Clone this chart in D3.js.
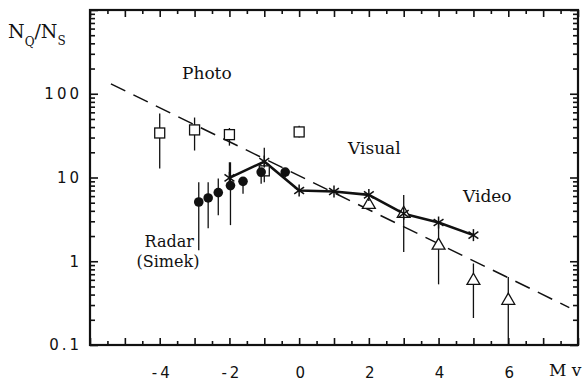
<!DOCTYPE html>
<html>
<head>
<meta charset="utf-8">
<script src="https://cdn.jsdelivr.net/npm/d3@7"></script>
<style>
body { margin: 0; background: #fff; }
svg { display: block; }
.tick text { font-family: "DejaVu Sans", sans-serif; font-size: 15px; fill: #111; letter-spacing: 3px; }
.lbl { font-family: "DejaVu Serif", serif; fill: #111; }
</style>
</head>
<body>
<script>
// values (magnitude Mv vs N_Q/N_S)
var photoM  = [-4, -3, -2, -1, 0];
var photoN  = [34, 37, 32.5, 12, 35];
var photoHi = [58, 52, 39, 12, 41.5];
var photoLo = [12.8, 21, 24, 12, 30];

var radarM  = [-2.88, -2.61, -2.32, -1.97, -1.61, -1.09, -0.4];
var radarN  = [5.1, 5.7, 6.6, 8.0, 9.0, 11.6, 11.6];
var radarHi = [8.8, 8.8, 9.7, 15.2, 10, 14, 13];
var radarLo = [1.35, 2.47, 3.53, 2.7, 6.4, 8.4, 10];

var visualM  = [-2, -1, 0, 1, 2, 3, 4, 5];
var visualN  = [9.9, 15.5, 7.0, 6.8, 6.2, 3.7, 2.9, 2.05];
var visualHi = [15.2, 22.7, 7.0, 6.8, 6.2, 6.2, 2.9, 2.05];
var visualLo = [9.9, 8.8, 7.0, 6.8, 6.2, 1.29, 2.9, 2.05];

var videoM  = [2, 3, 4, 5, 6];
var videoN  = [4.6, 3.6, 1.5, 0.57, 0.33];
var videoHi = [4.6, 3.6, 2.94, 0.94, 0.65];
var videoLo = [4.6, 3.6, 0.53, 0.21, 0.1];

var fitM = [-5.4, 7.75];
var fitN = [131, 0.28];

var xLabels = [-4, -2, 0, 2, 4, 6];
var yLabels = [0.1, 1, 10, 100];

var W = 582, H = 383;
// note: "top" is taken by window.top, so prefix these
var pLeft = 90, pRight = 578, pTop = 10, pBottom = 345;

var svg = d3.select("body").append("svg")
	.attr("width", W)
	.attr("height", H);

var x = d3.scaleLinear().domain([-6, 8]).range([pLeft, pRight]);
var y = d3.scaleLog().domain([0.1, 1000]).range([pBottom, pTop]);

// ticks every half magnitude, longer on the integers
var halfTicks = d3.range(-6, 8.01, 0.5);
var intTicks = halfTicks.filter(function(d){ return d % 1 === 0; });
var minorX = halfTicks.filter(function(d){ return d % 1 !== 0; });

var minorY = [];
for(var e = -1; e < 3; e++){
	for(var k = 2; k <= 9; k++){
		minorY.push(k * Math.pow(10, e));
	}
}
var decY = [0.1, 1, 10, 100, 1000];

function tickAxis(axisFn, scale, vals, len, tx){
	var g = svg.append("g")
		.attr("transform", tx)
		.call(axisFn(scale).tickValues(vals).tickSize(-len).tickFormat(""));
	g.select(".domain").remove();
	g.selectAll("line").attr("stroke", "#111").attr("stroke-width", 1.6);
	return g;
}

tickAxis(d3.axisBottom, x, intTicks, 7, "translate(0," + pBottom + ")");
tickAxis(d3.axisBottom, x, minorX, 4, "translate(0," + pBottom + ")");
tickAxis(d3.axisTop, x, intTicks, 7, "translate(0," + pTop + ")");
tickAxis(d3.axisTop, x, minorX, 4, "translate(0," + pTop + ")");
tickAxis(d3.axisLeft, y, decY, 8, "translate(" + pLeft + ",0)");
tickAxis(d3.axisLeft, y, minorY, 5, "translate(" + pLeft + ",0)");
tickAxis(d3.axisRight, y, decY, 8, "translate(" + pRight + ",0)");
tickAxis(d3.axisRight, y, minorY, 5, "translate(" + pRight + ",0)");

// frame
svg.append("rect")
	.attr("x", pLeft)
	.attr("y", pTop)
	.attr("width", pRight - pLeft)
	.attr("height", pBottom - pTop)
	.attr("fill", "none")
	.attr("stroke", "#111")
	.attr("stroke-width", 2.2);

// tick labels
var xl = svg.append("g")
	.attr("transform", "translate(2," + pBottom + ")")
	.call(d3.axisBottom(x).tickValues(xLabels).tickSize(0).tickPadding(22).tickFormat(function(d){ return d; }));
xl.select(".domain").remove();

var yl = svg.append("g")
	.attr("transform", "translate(" + (pLeft - 8) + ",0)")
	.call(d3.axisLeft(y).tickValues(yLabels).tickSize(0).tickPadding(0).tickFormat(function(d){ return d < 1 ? "0.1" : String(d); }));
yl.select(".domain").remove();

// dashed fit line
var line = d3.line()
	.x(function(d){ return x(d[0]); })
	.y(function(d){ return y(d[1]); });

svg.append("path")
	.datum(d3.zip(fitM, fitN))
	.attr("d", line)
	.attr("fill", "none")
	.attr("stroke", "#111")
	.attr("stroke-width", 1.5)
	.attr("stroke-dasharray", "16,9");

// error bars
function errBars(ms, hi, lo){
	svg.append("g").selectAll("line")
		.data(d3.range(ms.length))
		.enter().append("line")
		.attr("x1", function(i){ return x(ms[i]); })
		.attr("x2", function(i){ return x(ms[i]); })
		.attr("y1", function(i){ return y(hi[i]); })
		.attr("y2", function(i){ return y(lo[i]); })
		.attr("stroke", "#111")
		.attr("stroke-width", 1.3);
}
errBars(photoM, photoHi, photoLo);
errBars(radarM, radarHi, radarLo);
errBars(visualM, visualHi, visualLo);
errBars(videoM, videoHi, videoLo);

// visual: thick connecting line
svg.append("path")
	.datum(d3.zip(visualM, visualN))
	.attr("d", line)
	.attr("fill", "none")
	.attr("stroke", "#111")
	.attr("stroke-width", 2.6)
	.attr("stroke-linejoin", "round");

// photo squares
svg.append("g").selectAll("rect")
	.data(d3.zip(photoM, photoN))
	.enter().append("rect")
	.attr("x", function(d){ return x(d[0]) - 5; })
	.attr("y", function(d){ return y(d[1]) - 5; })
	.attr("width", 10)
	.attr("height", 10)
	.attr("fill", "#fff")
	.attr("stroke", "#111")
	.attr("stroke-width", 1.3);

// radar dots
svg.append("g").selectAll("circle")
	.data(d3.zip(radarM, radarN))
	.enter().append("circle")
	.attr("cx", function(d){ return x(d[0]); })
	.attr("cy", function(d){ return y(d[1]); })
	.attr("r", 4.8)
	.attr("fill", "#111");

// video triangles
var tri = d3.symbol().type(d3.symbolTriangle).size(72);
svg.append("g").selectAll("path")
	.data(d3.zip(videoM, videoN))
	.enter().append("path")
	.attr("d", tri)
	.attr("transform", function(d){ return "translate(" + x(d[0]) + "," + (y(d[1]) - 1) + ")"; })
	.attr("fill", "#fff")
	.attr("stroke", "#111")
	.attr("stroke-width", 1.3);

// visual asterisks
var arms = [90, 35, 145];
var stars = svg.append("g").selectAll("g")
	.data(d3.zip(visualM, visualN))
	.enter().append("g")
	.attr("transform", function(d){ return "translate(" + x(d[0]) + "," + y(d[1]) + ")"; });
arms.forEach(function(a){
	var r = 6, rad = a * Math.PI / 180;
	stars.append("line")
		.attr("x1", -r * Math.cos(rad))
		.attr("y1", -r * Math.sin(rad))
		.attr("x2", r * Math.cos(rad))
		.attr("y2", r * Math.sin(rad))
		.attr("stroke", "#111")
		.attr("stroke-width", 1.5);
});

// labels
svg.append("text").attr("class", "lbl").attr("x", 182).attr("y", 79).attr("font-size", 17).text("Photo");
svg.append("text").attr("class", "lbl").attr("x", 348).attr("y", 154).attr("font-size", 17).text("Visual");
svg.append("text").attr("class", "lbl").attr("x", 463).attr("y", 202).attr("font-size", 17).text("Video");
svg.append("text").attr("class", "lbl").attr("x", 194).attr("y", 247).attr("font-size", 16).attr("text-anchor", "end").text("Radar");
svg.append("text").attr("class", "lbl").attr("x", 168).attr("y", 267).attr("font-size", 16).attr("text-anchor", "middle").text("(Simek)");

var yt = svg.append("text").attr("class", "lbl").attr("x", 8).attr("y", 38).attr("font-size", 19);
yt.append("tspan").text("N");
yt.append("tspan").attr("font-size", 12).attr("dy", 8).text("Q");
yt.append("tspan").attr("dy", -8).text("/N");
yt.append("tspan").attr("font-size", 12).attr("dy", 7).text("S");

svg.append("text").attr("class", "lbl").attr("x", 549).attr("y", 376).attr("font-size", 17).text("M v");
</script>
</body>
</html>
